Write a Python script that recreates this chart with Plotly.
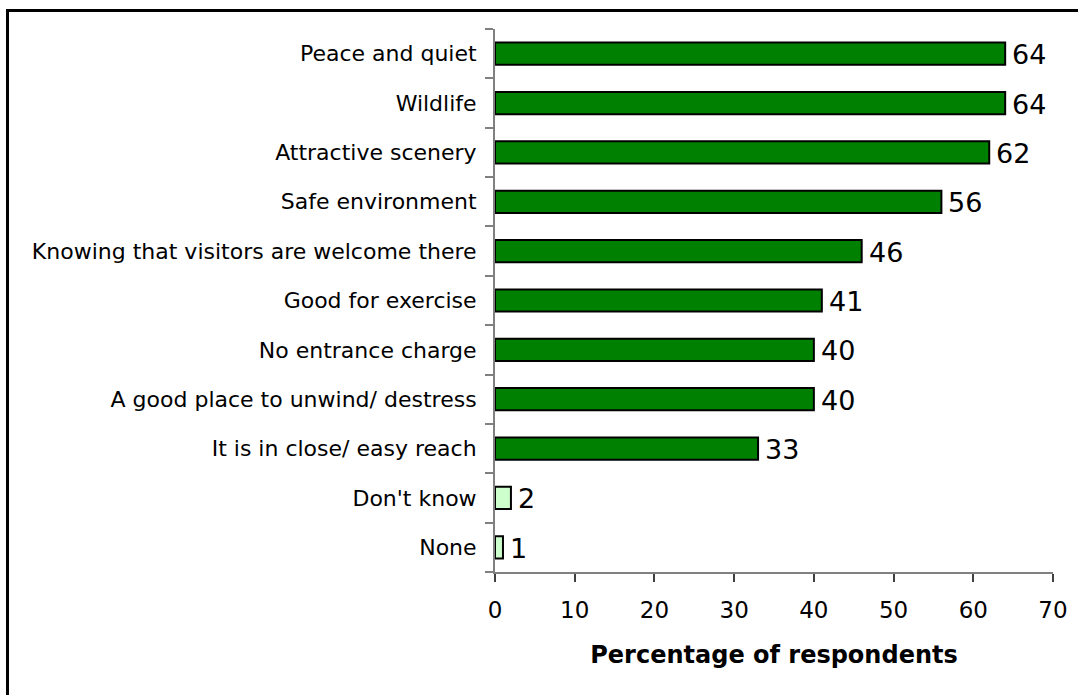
import plotly.graph_objects as go

categories = [
    "Peace and quiet",
    "Wildlife",
    "Attractive scenery",
    "Safe environment",
    "Knowing that visitors are welcome there",
    "Good for exercise",
    "No entrance charge",
    "A good place to unwind/ destress",
    "It is in close/ easy reach",
    "Don't know",
    "None",
]
values = [64, 64, 62, 56, 46, 41, 40, 40, 33, 2, 1]
bar_colors = ["#008000"] * 9 + ["#CCFFCC"] * 2
x_ticks = [0, 10, 20, 30, 40, 50, 60, 70]
x_title = "Percentage of respondents"

FONT = "DejaVu Sans"
W, H = 1078, 695
L, R, T, B = 495, 25, 29, 123
pw, ph = W - L - R, H - T - B

fig = go.Figure()
fig.add_trace(go.Bar(
    x=values,
    y=categories,
    orientation="h",
    width=0.45,
    marker=dict(color=bar_colors, line=dict(color="#000000", width=2)),
    hoverinfo="skip",
))

for c, v in zip(categories, values):
    fig.add_annotation(
        x=v, y=c, xref="x", yref="y",
        text=str(v), showarrow=False,
        xanchor="left", yanchor="middle",
        xshift=5, yshift=-1,
        font=dict(family=FONT, size=27, color="#000000"),
    )

# outer chart frame (extends past the image on right/bottom)
def px_x(p):
    return (p - L) / pw

def px_y(p):
    return (H - B - p) / ph

fig.add_shape(
    type="rect", xref="paper", yref="paper",
    x0=px_x(7.5), x1=px_x(1100), y0=px_y(10.5), y1=px_y(720),
    line=dict(color="#000000", width=3), fillcolor="rgba(0,0,0,0)",
    layer="below",
)

fig.update_layout(
    width=W, height=H,
    margin=dict(l=L, r=R, t=T, b=B, autoexpand=False),
    paper_bgcolor="#FFFFFF",
    plot_bgcolor="#FFFFFF",
    showlegend=False,
    font=dict(family=FONT, color="#000000"),
    xaxis=dict(
        range=[0, 70],
        tickvals=x_ticks,
        ticktext=[str(t) for t in x_ticks],
        showgrid=False, zeroline=False,
        showline=True, linecolor="#808080", linewidth=2,
        ticks="outside", ticklen=8, tickwidth=1.5, tickcolor="#404040",
        tickfont=dict(family=FONT, size=23, color="#000000"),
        ticklabelstandoff=8,
        title=dict(text="<b>" + x_title + "</b>", standoff=25,
                   font=dict(family=FONT, size=24, color="#000000")),
        fixedrange=True,
    ),
    yaxis=dict(
        categoryorder="array",
        categoryarray=categories[::-1],
        showgrid=False, zeroline=False,
        showline=True, linecolor="#808080", linewidth=2,
        ticks="outside", ticklen=8, tickwidth=1.5, tickcolor="#808080",
        tickson="boundaries",
        tickfont=dict(family=FONT, size=22, color="#000000"),
        ticklabelstandoff=12,
        fixedrange=True,
    ),
)

fig.write_html("out.html")
